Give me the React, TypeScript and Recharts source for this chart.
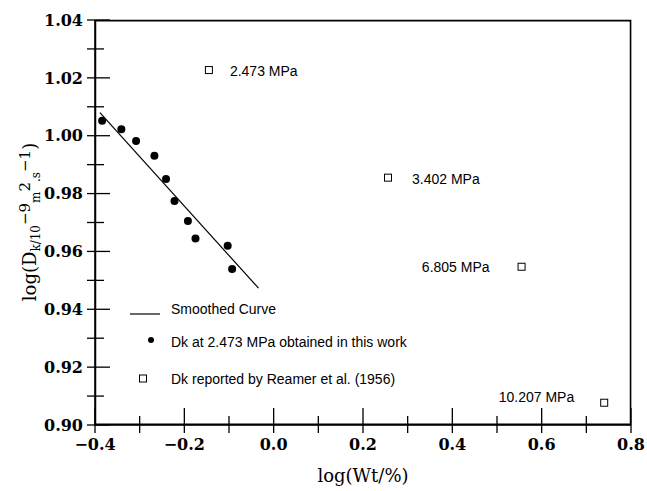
import React from 'react';
import { ComposedChart, Scatter, XAxis, YAxis, Legend } from 'recharts';

// axis ticks (every minor tick, labels on the even ones)
const xTicks = [-0.4, -0.3, -0.2, -0.1, 0, 0.1, 0.2, 0.3, 0.4, 0.5, 0.6, 0.7, 0.8];
const yTicks = [0.9, 0.91, 0.92, 0.93, 0.94, 0.95, 0.96, 0.97, 0.98, 0.99, 1.0, 1.01, 1.02, 1.03, 1.04];
const xDomain = [-0.4, 0.8];
const yDomain = [0.9, 1.04];

// Dk at 2.473 MPa obtained in this work
const workX = [-0.384, -0.341, -0.308, -0.267, -0.241, -0.222, -0.192, -0.175, -0.103, -0.093];
const workY = [1.0052, 1.0022, 0.9982, 0.9931, 0.985, 0.9774, 0.9705, 0.9645, 0.962, 0.9539];

// smoothed curve end points
const smoothX = [-0.389, -0.034];
const smoothY = [1.008, 0.9473];

// Dk reported by Reamer et al. (1956)
const reamerX = [-0.145, 0.256, 0.555, 0.74];
const reamerY = [1.0227, 0.9855, 0.9547, 0.9077];
const reamerLabels = ['2.473 MPa', '3.402 MPa', '6.805 MPa', '10.207 MPa'];

const workData = workX.map((x, i) => ({ x, y: workY[i] }));
const smoothData = smoothX.map((x, i) => ({ x, y: smoothY[i] }));
const reamerData = reamerX.map((x, i) => ({ x, y: reamerY[i], label: reamerLabels[i] }));

// plot box round the domain corners, nudged a hair inside the edges
const ex = 0.001;
const ey = 0.0002;
const frameData = [
  { x: xDomain[0] + ex, y: yDomain[0] + ey },
  { x: xDomain[0] + ex, y: yDomain[1] - ey },
  { x: xDomain[1] - ex, y: yDomain[1] - ey },
  { x: xDomain[1] - ex, y: yDomain[0] + ey },
  { x: xDomain[0] + ex, y: yDomain[0] + ey },
];

// where each pressure label sits relative to its square
const labelPlacement: Record<string, { dx: number; dy: number; anchor: string }> = {
  '2.473 MPa': { dx: 21, dy: 1, anchor: 'start' },
  '3.402 MPa': { dx: 24, dy: 1, anchor: 'start' },
  '6.805 MPa': { dx: -32, dy: 0, anchor: 'end' },
  '10.207 MPa': { dx: -30, dy: -6, anchor: 'end' },
};

const W = 647;
const H = 491;
const margin = { top: 20, right: 16, bottom: 0, left: 0 };
const yAxisW = 95;
const xAxisH = 66;
const plotLeft = margin.left + yAxisW;
const plotBottom = H - margin.bottom - xAxisH;

const serif = '"DejaVu Serif", serif';
const sans = '"Liberation Sans", Arial, sans-serif';

const fmtX = (v: number) => {
  if (Math.abs(v) < 1e-9) return '0.0';
  return (v < 0 ? '\u2212' : '') + Math.abs(v).toFixed(1);
};

// ticks run from the axis' tick end into the plot; labels keyed to the plot edge
const XTick = (props: any) => {
  const { x, y, payload } = props;
  const v = payload.value;
  const major = Math.round(v * 10) % 2 === 0;
  return (
    <g>
      <line x1={x} x2={x} y1={y} y2={plotBottom - (major ? 17 : 9)} stroke="#000" strokeWidth={1.3} />
      {major && (
        <text x={x} y={plotBottom + 25} textAnchor="middle" fontFamily={serif} fontWeight="bold" fontSize={16} fill="#000">
          {fmtX(v)}
        </text>
      )}
    </g>
  );
};

const YTick = (props: any) => {
  const { x, y, payload } = props;
  const v = payload.value;
  const major = Math.round(v * 100) % 2 === 0;
  return (
    <g>
      <line x1={x} x2={plotLeft + (major ? 15 : 9)} y1={y} y2={y} stroke="#000" strokeWidth={1.3} />
      {major && (
        <text x={plotLeft - 12} y={y} dy="0.36em" textAnchor="end" fontFamily={serif} fontWeight="bold" fontSize={16} fill="#000">
          {v.toFixed(2)}
        </text>
      )}
    </g>
  );
};

const XTitle = () => (
  <text x={363} y={482} textAnchor="middle" fontFamily={serif} fontSize={18} fill="#000">
    log(Wt/%)
  </text>
);

const YTitle = () => (
  <text x={36} y={222} textAnchor="middle" fontFamily={serif} fontSize={18} fill="#000" transform="rotate(-90 36 222)">
    log(D
    <tspan fontSize={12} baselineShift="-4">k/10</tspan>
    <tspan fontSize={15} baselineShift="6">{'\u22129'}</tspan>
    <tspan fontSize={12} baselineShift="-4">m</tspan>
    <tspan fontSize={15} baselineShift="6">2</tspan>
    <tspan fontSize={12} baselineShift="-4">.s</tspan>
    <tspan fontSize={15} baselineShift="6">{'\u22121'}</tspan>
    )
  </text>
);

const Dot = (props: any) => <circle cx={props.cx} cy={props.cy} r={4} fill="#000" />;

const SquareWithLabel = (props: any) => {
  const { cx, cy, payload } = props;
  const p = labelPlacement[payload.label];
  return (
    <g>
      <rect x={cx - 3.5} y={cy - 3.5} width={7} height={7} fill="#fff" stroke="#000" strokeWidth={1} />
      <text x={cx + p.dx} y={cy + p.dy} dy="0.35em" textAnchor={p.anchor} fontFamily={sans} fontSize={14} fill="#000">
        {payload.label}
      </text>
    </g>
  );
};

const LegendBox = () => (
  <svg width={330} height={100} style={{ display: 'block' }}>
    <line x1={10} x2={40} y1={19} y2={19} stroke="#000" strokeWidth={1.2} />
    <text x={51} y={14} dy="0.35em" fontFamily={sans} fontSize={14} fill="#000">Smoothed Curve</text>
    <circle cx={31} cy={45} r={3} fill="#000" />
    <text x={51} y={47} dy="0.35em" fontFamily={sans} fontSize={14} fill="#000">Dk at 2.473 MPa obtained in this work</text>
    <rect x={19.5} y={80} width={7} height={7} fill="#fff" stroke="#000" strokeWidth={1} />
    <text x={51} y={84} dy="0.35em" fontFamily={sans} fontSize={14} fill="#000">Dk reported by Reamer et al. (1956)</text>
  </svg>
);

export default function App() {
  return (
    <div style={{ position: 'absolute', left: 0, top: 0, background: '#fff' }}>
      <ComposedChart width={W} height={H} margin={margin}>
        <XAxis
          type="number"
          dataKey="x"
          domain={xDomain}
          ticks={xTicks}
          interval={0}
          height={xAxisH}
          axisLine={{ stroke: '#000', strokeWidth: 1.5 }}
          tickLine={false}
          tick={<XTick />}
          label={<XTitle />}
        />
        <YAxis
          type="number"
          dataKey="y"
          domain={yDomain}
          ticks={yTicks}
          interval={0}
          width={yAxisW}
          axisLine={{ stroke: '#000', strokeWidth: 1.5 }}
          tickLine={false}
          tick={<YTick />}
          label={<YTitle />}
        />
        <Scatter
          name="frame"
          data={frameData}
          line={{ stroke: '#000', strokeWidth: 1.6 }}
          shape={() => <g />}
          isAnimationActive={false}
        />
        <Scatter
          name="Smoothed Curve"
          data={smoothData}
          line={{ stroke: '#000', strokeWidth: 1.2 }}
          shape={() => <g />}
          isAnimationActive={false}
        />
        <Scatter name="Dk at 2.473 MPa obtained in this work" data={workData} shape={<Dot />} isAnimationActive={false} />
        <Scatter name="Dk reported by Reamer et al. (1956)" data={reamerData} shape={<SquareWithLabel />} isAnimationActive={false} />
        <Legend
          layout="vertical"
          align="center"
          verticalAlign="middle"
          wrapperStyle={{ left: 120, top: 295, width: 330 }}
          content={() => <LegendBox />}
        />
      </ComposedChart>
    </div>
  );
}
